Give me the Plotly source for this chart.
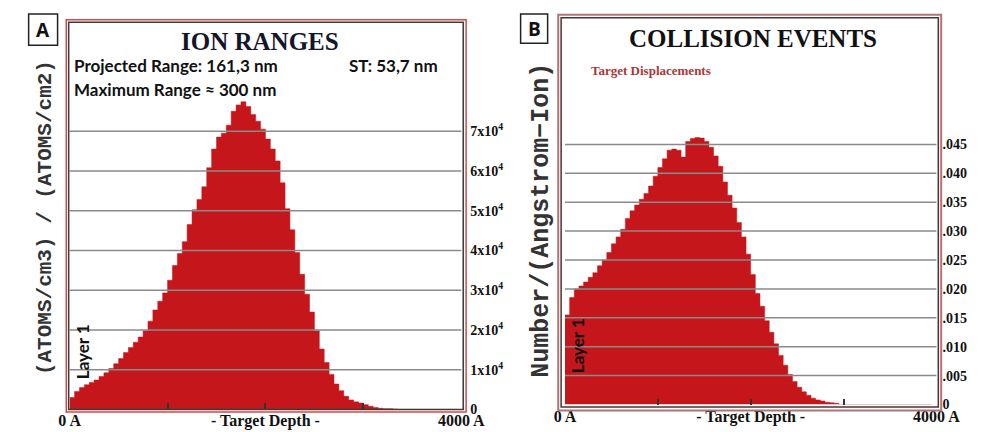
import plotly.graph_objects as go

# ---------------- data ----------------
depth_A = list(range(0, 4000, 50))  # Angstrom, 50 A bins
ion_range = [  # atoms/cm3 per atoms/cm2
    3000, 4500, 5500, 6200, 6800, 7400, 8300, 9200, 10300, 11500,
    12800, 14300, 15600, 16900, 18200, 19800, 22200, 25000, 27200, 29300,
    32500, 36200, 39200, 42200, 46500, 50200, 52800, 56000, 60800, 65500,
    68500, 69500, 71500, 75000, 76600, 77400, 76200, 74200, 72500, 70500,
    68000, 65500, 62500, 57000, 50500, 45200, 39500, 34000, 29000, 24500,
    19800, 15200, 11800, 8800, 6400, 4700, 3300, 2400, 1900, 1600,
    1200, 800, 500, 300, 200, 200, 100, 0, 0, 0,
    0, 0, 0, 0, 0, 0, 0, 0, 0, 0,
]
depth_B = list(range(0, 4000, 50))
displacements = [  # number/(Angstrom-Ion)
    0.0155, 0.0185, 0.0200, 0.0205, 0.0212, 0.0220, 0.0228, 0.0240, 0.0250, 0.0263,
    0.0278, 0.0290, 0.0303, 0.0322, 0.0335, 0.0345, 0.0355, 0.0365, 0.0378, 0.0395,
    0.0410, 0.0425, 0.0440, 0.0442, 0.0440, 0.0428, 0.0455, 0.0460, 0.0462, 0.0461,
    0.0455, 0.0445, 0.0430, 0.0412, 0.0385, 0.0362, 0.0340, 0.0315, 0.0290, 0.0260,
    0.0225, 0.0192, 0.0170, 0.0145, 0.0125, 0.0105, 0.0085, 0.0068, 0.0052, 0.0040,
    0.0030, 0.0022, 0.0016, 0.0011, 0.0008, 0.0006, 0.0004, 0.0003, 0.0002, 0.0,
    0, 0, 0, 0, 0, 0, 0, 0, 0, 0,
    0, 0, 0, 0, 0, 0, 0, 0, 0, 0,
]
yticks_A = [0, 10000, 20000, 30000, 40000, 50000, 60000, 70000]
yticktext_A = ["0", "1x10<sup>4</sup>", "2x10<sup>4</sup>", "3x10<sup>4</sup>", "4x10<sup>4</sup>",
               "5x10<sup>4</sup>", "6x10<sup>4</sup>", "7x10<sup>4</sup>"]
yticks_B = [0, 0.005, 0.010, 0.015, 0.020, 0.025, 0.030, 0.035, 0.040, 0.045]
yticktext_B = ["0", ".005", ".010", ".015", ".020", ".025", ".030", ".035", ".040", ".045"]
xticks = [0, 1000, 2000, 3000, 4000]
xticktext = ["0 A", "", "- Target Depth -", "", "4000 A"]

W, H = 990, 432
def px(x):
    return x / W
def py(y):
    return 1 - y / H
def bold(lst):
    return [f"<b>{t}</b>" if t else "" for t in lst]

RED = "#c5161b"
SERIF = "Liberation Serif"

fig = go.Figure()
fig.add_trace(go.Scatter(x=depth_A, y=ion_range, mode="lines", line_shape="hv",
                         line=dict(color=RED, width=0.5), fill="tozeroy", fillcolor=RED,
                         xaxis="x", yaxis="y", showlegend=False, hoverinfo="skip"))
fig.add_trace(go.Scatter(x=depth_B, y=displacements, mode="lines", line_shape="hv",
                         line=dict(color=RED, width=0.5), fill="tozeroy", fillcolor=RED,
                         xaxis="x2", yaxis="y2", showlegend=False, hoverinfo="skip"))

tickfont = dict(family=SERIF, size=14, color="#111")
xfont = dict(family=SERIF, size=16, color="#111")
common_x = dict(range=[0, 4000], showgrid=False, zeroline=False, showline=False,
                tickvals=xticks, ticktext=bold(xticktext), ticks="inside", ticklen=6,
                tickcolor="#333", tickwidth=1.5, tickfont=xfont, fixedrange=True)

fig.update_layout(
    width=W, height=H, margin=dict(l=0, r=0, t=0, b=0),
    paper_bgcolor="white", plot_bgcolor="white",
    xaxis=dict(domain=[px(52.5), px(458.5)], anchor="y", **common_x),
    yaxis=dict(domain=[py(409), py(14.5)], range=[0, 97400], side="right", anchor="x",
               tickvals=yticks_A, ticktext=bold(yticktext_A), showgrid=False, zeroline=False,
               showline=False, ticks="", ticklabelstandoff=8, tickfont=tickfont),
    xaxis2=dict(domain=[px(566), px(951)], anchor="y2", **common_x),
    yaxis2=dict(domain=[py(404), py(10)], range=[0, 0.0669], side="right", anchor="x2",
                tickvals=yticks_B, ticktext=bold(yticktext_B), showgrid=False, zeroline=False,
                showline=False, ticks="", ticklabelstandoff=5, tickfont=tickfont),
)

# gridlines drawn above the fill
for v in yticks_A[1:]:
    fig.add_shape(type="line", xref="x domain", x0=0, x1=1, yref="y", y0=v, y1=v,
                  line=dict(color="#8a8a8a", width=1.5), layer="above")
for v in yticks_B[1:]:
    fig.add_shape(type="line", xref="x2 domain", x0=0, x1=1, yref="y2", y0=v, y1=v,
                  line=dict(color="#8a8a8a", width=1.5), layer="above")

# frames
def rect(x0, y0, x1, y1, color, width=1.5):
    fig.add_shape(type="rect", xref="paper", yref="paper",
                  x0=px(x0), x1=px(x1), y0=py(y1), y1=py(y0),
                  line=dict(color=color, width=width), fillcolor="rgba(0,0,0,0)", layer="above")

rect(49, 12, 463.5, 411.5, "#d24848", 1.5)
rect(51.5, 14.5, 460.5, 409, "#3a3a3a", 1.5)
rect(559, 7, 956, 410, "#b07474", 2)
rect(562, 10, 953, 406.5, "#4a3434", 1.5)
# panel label boxes
rect(10, 6, 40, 38, "#222", 1.5)
rect(520, 6, 548, 36, "#222", 1.5)

def ann(text, x, y, size, family="Lato", color="#111", angle=0, xanchor="center", isbold=True):
    fig.add_annotation(text=f"<b>{text}</b>" if isbold else text, x=px(x), y=py(y),
                       xref="paper", yref="paper", showarrow=False, textangle=angle,
                       xanchor=xanchor, yanchor="middle",
                       font=dict(family=family, size=size, color=color))

ann("A", 25, 22, 19, "Open Sans")
ann("B", 534, 21, 19, "Open Sans")
ann("ION RANGES", 250, 34, 25, SERIF, "#15152a")
ann("COLLISION EVENTS", 761, 31, 25, SERIF, "#111")
ann("Projected Range: 161,3 nm", 55, 59, 17, "Lato", "#111", xanchor="left")
ann("ST: 53,7 nm", 340, 59, 17, "Lato", "#111", xanchor="left")
ann("Maximum Range ≈ 300 nm", 55, 83, 17, "Lato", "#111", xanchor="left")
ann("Target Displacements", 591, 64, 13, SERIF, "#a83838", xanchor="left")
ann("(ATOMS/cm3) / (ATOMS/cm2)", 27, 214, 21, "Liberation Mono", "#333", angle=-90)
ann("Number/(Angstrom−Ion)", 541, 216, 25, "Liberation Mono", "#333", angle=-90)
ann("Layer 1", 66, 350, 17, "Lato", "#111", angle=-90)
ann("Layer 1", 579, 344, 17, "Lato", "#111", angle=-90)

fig.write_html("out.html")
